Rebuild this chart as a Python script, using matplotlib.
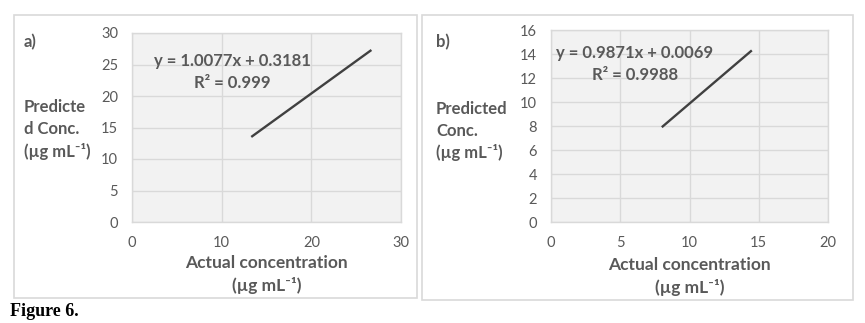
import matplotlib
matplotlib.use("Agg")
import matplotlib.pyplot as plt
from matplotlib.patches import Rectangle

# ---- data ----
actual_a = [13.3, 26.7]
pred_a = [13.5, 27.3]
xticks_a = [0, 10, 20, 30]
yticks_a = [0, 5, 10, 15, 20, 25, 30]
eq_a = "y = 1.0077x + 0.3181"
r2_a = "R² = 0.999"

actual_b = [8.0, 14.5]
pred_b = [7.9, 14.3]
xticks_b = [0, 5, 10, 15, 20]
yticks_b = [0, 2, 4, 6, 8, 10, 12, 14, 16]
eq_b = "y = 0.9871x + 0.0069"
r2_b = "R² = 0.9988"

FAM = ["Lato", "DejaVu Sans"]
TXT = "#595959"
W, H = 865, 323

fig = plt.figure(figsize=(W / 100, H / 100), dpi=100)
fig.patch.set_facecolor("white")


def px(x, y):
    return x / W, 1 - y / H


def box(x0, y0, x1, y1):
    r = Rectangle((x0 / W, 1 - y1 / H), (x1 - x0) / W, (y1 - y0) / H,
                  transform=fig.transFigure, fill=False, edgecolor="#d9d9d9", lw=1.2)
    fig.add_artist(r)


def panel(l, t, r, b, xs, ys, xt, yt, eq, r2, eqx, eqy, r2y, label, lab_x, ylab_lines, ylab_y, xlab_y):
    ax = fig.add_axes([l / W, 1 - b / H, (r - l) / W, (b - t) / H])
    ax.set_facecolor("#f2f2f2")
    ax.plot(xs, ys, color="#404040", lw=1.7, solid_capstyle="butt")
    ax.set_xlim(xt[0], xt[-1])
    ax.set_ylim(yt[0], yt[-1])
    ax.set_xticks(xt)
    ax.set_yticks(yt)
    ax.grid(True, color="#d9d9d9", lw=1.0)
    ax.set_axisbelow(True)
    for s in ax.spines.values():
        s.set_color("#d9d9d9")
        s.set_linewidth(1.0)
    ax.tick_params(length=0, labelsize=10.5, labelcolor=TXT)
    ax.tick_params(axis="x", pad=10)
    ax.tick_params(axis="y", pad=10)
    for lab in ax.get_xticklabels() + ax.get_yticklabels():
        lab.set_family(FAM)
    # equation
    fig.text(*px(eqx, eqy), eq, ha="center", va="center", family=FAM,
             fontweight="bold", fontsize=12, color=TXT)
    fig.text(*px(eqx, r2y), r2, ha="center", va="center", family=FAM,
             fontweight="bold", fontsize=12, color=TXT)
    # panel label
    fig.text(*px(lab_x, 42), label, ha="left", va="center", family=FAM,
             fontweight="bold", fontsize=12, color=TXT)
    for i, s in enumerate(ylab_lines):
        fig.text(*px(lab_x, ylab_y + 22 * i), s, ha="left", va="center", family=FAM,
                 fontweight="bold", fontsize=12, color=TXT)
    cx = (l + r) / 2
    fig.text(*px(cx, xlab_y), "Actual concentration", ha="center", va="center",
             family=FAM, fontweight="bold", fontsize=12.5, color=TXT)
    fig.text(*px(cx, xlab_y + 22), "(µg mL⁻¹)", ha="center", va="center",
             family=FAM, fontweight="bold", fontsize=12.5, color=TXT)
    return ax


box(14, 15, 417, 298)
box(422, 15, 853, 300)

panel(132, 33, 401, 222, actual_a, pred_a, xticks_a, yticks_a, eq_a, r2_a,
      232, 61, 83, "a)", 24, ["Predicte", "d Conc.", "(µg mL⁻¹)"], 107, 263)
panel(551, 30, 828, 222, actual_b, pred_b, xticks_b, yticks_b, eq_b, r2_b,
      635, 53, 75, "b)", 436, ["Predicted", "Conc.", "(µg mL⁻¹)"], 109, 265)

fig.text(*px(10, 312), "Figure 6.", ha="left", va="center",
         family="Liberation Serif", fontweight="bold", fontsize=13, color="black")

fig.savefig("out.png", dpi=100, facecolor="white")
